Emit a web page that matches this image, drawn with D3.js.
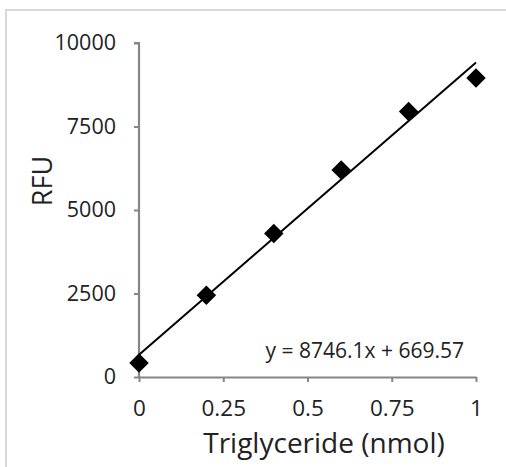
<!DOCTYPE html>
<html><head><meta charset="utf-8">
<script src="https://cdn.jsdelivr.net/npm/d3@7/dist/d3.min.js"></script>
<style>body{margin:0;background:#fff;}svg{display:block;}</style>
</head><body>
<script>
const xValues = [0, 0.2, 0.4, 0.6, 0.8, 1.0];
const rfuValues = [420, 2450, 4300, 6200, 7950, 8950];
const xTicks = [0, 0.25, 0.5, 0.75, 1];
const xTickLabels = ["0", "0.25", "0.5", "0.75", "1"];
const yTicks = [0, 2500, 5000, 7500, 10000];
const fitSlope = 8746.1, fitIntercept = 669.57;
const equationText = "y = 8746.1x + 669.57";
const xTitle = "Triglyceride (nmol)", yTitle = "RFU";

const W = 506, H = 467;
const font = "'Open Sans', sans-serif";
const txt = "#222";
const svg = d3.select("body").append("svg").attr("width", W).attr("height", H);
svg.append("path").attr("d", "M6,467 V10 H506").attr("fill", "none").attr("stroke", "#d9d9d9").attr("stroke-width", 2);

const x = d3.scaleLinear().domain([0, 1]).range([139, 476]);
const y = d3.scaleLinear().domain([0, 10000]).range([377, 43]);

const xa = svg.append("g").attr("transform", "translate(0,377)")
  .call(d3.axisBottom(x).tickValues(xTicks).tickFormat((d,i)=>xTickLabels[i]).tickSize(5).tickSizeOuter(0).tickPadding(18));
const ya = svg.append("g").attr("transform", "translate(139,0)")
  .call(d3.axisLeft(y).tickValues(yTicks).tickFormat(d3.format("d")).tickSize(5).tickSizeOuter(0).tickPadding(18));
[xa, ya].forEach(g => {
  g.attr("font-size", null).attr("font-family", null);
  g.select(".domain").attr("stroke", "#868686").attr("stroke-width", 2.2);
  g.selectAll(".tick line").attr("stroke", "#868686").attr("stroke-width", 2);
  g.selectAll("text").attr("font-family", font).attr("font-size", 21.5).attr("fill", txt);
});
xa.selectAll("text").attr("font-size", 22.5);
ya.select(".domain").attr("d", "M-5,43 H0 V378");

svg.append("line")
  .attr("x1", x(0)).attr("y1", y(fitIntercept))
  .attr("x2", x(1)).attr("y2", y(fitSlope + fitIntercept))
  .attr("stroke", "#000").attr("stroke-width", 2);

const pts = xValues.map((v,i)=>({x:v, y:rfuValues[i]}));
svg.selectAll(".pt").data(pts).enter().append("path")
  .attr("class","pt")
  .attr("d", d3.symbol(d3.symbolSquare, 190))
  .attr("transform", d => `translate(${x(d.x)},${y(d.y)}) rotate(45)`)
  .attr("fill", "#000");

svg.append("text").attr("x", 464).attr("y", 358).attr("text-anchor", "end")
  .attr("font-family", font).attr("font-size", 21).attr("fill", txt).text(equationText);
svg.append("text").attr("x", 324).attr("y", 453).attr("text-anchor", "middle")
  .attr("font-family", font).attr("font-size", 28).attr("fill", txt).text(xTitle);
svg.append("text").attr("transform", "translate(52,181) rotate(-90)").attr("text-anchor", "middle")
  .attr("font-family", font).attr("font-size", 27).attr("fill", txt).text(yTitle);
</script>
</body></html>
